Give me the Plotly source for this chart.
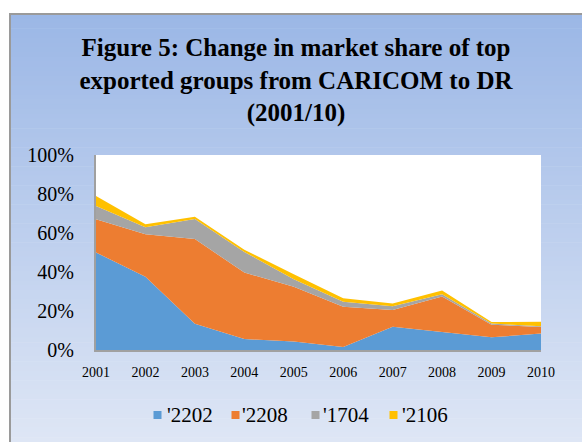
import plotly.graph_objects as go

years = [2001, 2002, 2003, 2004, 2005, 2006, 2007, 2008, 2009, 2010]
series_names = ["'2202", "'2208", "'1704", "'2106"]
s2202 = [50.0, 37.6, 13.5, 5.6, 4.3, 1.5, 11.9, 9.3, 6.5, 8.4]
s2208 = [17.0, 21.7, 43.4, 34.1, 28.2, 20.7, 8.6, 18.1, 6.5, 3.4]
s1704 = [6.9, 3.7, 10.3, 10.6, 3.8, 2.6, 1.9, 1.2, 0.6, 0.4]
s2106 = [5.1, 1.5, 1.1, 1.1, 2.5, 1.7, 1.5, 1.9, 0.7, 2.3]
colors = ["#5b9bd5", "#ed7d31", "#a5a5a5", "#ffc000"]
y_ticks = [0, 20, 40, 60, 80, 100]

SERIF = "Liberation Serif, Times New Roman, Times, DejaVu Serif, serif"

W, H = 582, 442
L, R, T, B = 96, 41, 155, 92
PW, PH = W - L - R, H - T - B


def px(x):
    return (x - L) / PW


def py(y):
    return (H - B - y) / PH


fig = go.Figure()
for name, vals, col in zip(series_names, [s2202, s2208, s1704, s2106], colors):
    fig.add_trace(go.Scatter(
        x=years, y=vals, name=name, mode="lines", stackgroup="one",
        line=dict(width=0, color=col), fillcolor=col, showlegend=False,
        hoverinfo="x+y+name",
    ))

shapes = []
# gradient background
top_c = (155, 183, 230)
bot_c = (222, 230, 245)
y_start, y_end = 14, H
n = 90
for i in range(n):
    t = i / (n - 1)
    c = tuple(round(a + (b - a) * t) for a, b in zip(top_c, bot_c))
    ya = y_start + (y_end - y_start) * i / n
    yb = y_start + (y_end - y_start) * (i + 1) / n + 0.6
    shapes.append(dict(type="rect", xref="paper", yref="paper", layer="below",
                       x0=px(10), x1=px(W + 20), y0=py(yb), y1=py(ya),
                       line=dict(width=0), fillcolor="rgb(%d,%d,%d)" % c))
# white plot area
shapes.append(dict(type="rect", xref="paper", yref="paper", layer="below",
                   x0=0, x1=1, y0=0, y1=1, line=dict(width=0), fillcolor="white"))
# outer border
shapes.append(dict(type="rect", xref="paper", yref="paper", layer="below",
                   x0=px(10), x1=px(W + 20), y0=py(H + 20), y1=py(14),
                   line=dict(width=2, color="#9a9a9a"), fillcolor="rgba(0,0,0,0)"))

# manual legend
legend_sq_x = [157.5, 235.5, 315.5, 393.5]
legend_txt_x = [165, 240, 321, 400]
legend_y = 415
annotations = []
for name, col, sx, tx in zip(series_names, colors, legend_sq_x, legend_txt_x):
    shapes.append(dict(type="rect", xref="paper", yref="paper",
                       x0=px(sx - 4), x1=px(sx + 4), y0=py(legend_y + 4), y1=py(legend_y - 4),
                       line=dict(width=0), fillcolor=col))
    annotations.append(dict(text=name, xref="paper", yref="paper", x=px(tx), y=py(legend_y),
                            xanchor="left", yanchor="middle", showarrow=False,
                            font=dict(family=SERIF, size=21, color="black")))

fig.update_layout(
    width=W, height=H,
    margin=dict(l=L, r=R, t=T, b=B),
    paper_bgcolor="white",
    plot_bgcolor="white",
    showlegend=False,
    font=dict(family=SERIF, color="black"),
    shapes=shapes,
    annotations=annotations,
    title=dict(
        text="<b>Figure 5: Change in market share of top<br>exported groups from CARICOM to DR<br>(2001/10)</b>",
        x=296 / W, xanchor="center", xref="container",
        y=1 - 56 / H, yanchor="middle", yref="container",
        font=dict(family=SERIF, size=25, color="black"),
    ),
    xaxis=dict(
        range=[2001, 2010], tickmode="array", tickvals=years, ticktext=[str(y) for y in years],
        showgrid=False, zeroline=False, showline=True, linecolor="#a0a0a0", linewidth=2,
        ticks="", ticklabelstandoff=8,
        tickfont=dict(family=SERIF, size=14, color="black"),
    ),
    yaxis=dict(
        range=[0, 100], tickmode="array", tickvals=y_ticks, ticktext=["%d%%" % v for v in y_ticks],
        showgrid=False, zeroline=False, showline=True, linecolor="#a0a0a0", linewidth=2,
        ticks="", ticklabelstandoff=16,
        tickfont=dict(family=SERIF, size=20, color="black"),
    ),
)

fig.write_html("out.html", config={"displayModeBar": False},
               post_script="document.body.style.margin='0';document.body.style.overflow='hidden';")
